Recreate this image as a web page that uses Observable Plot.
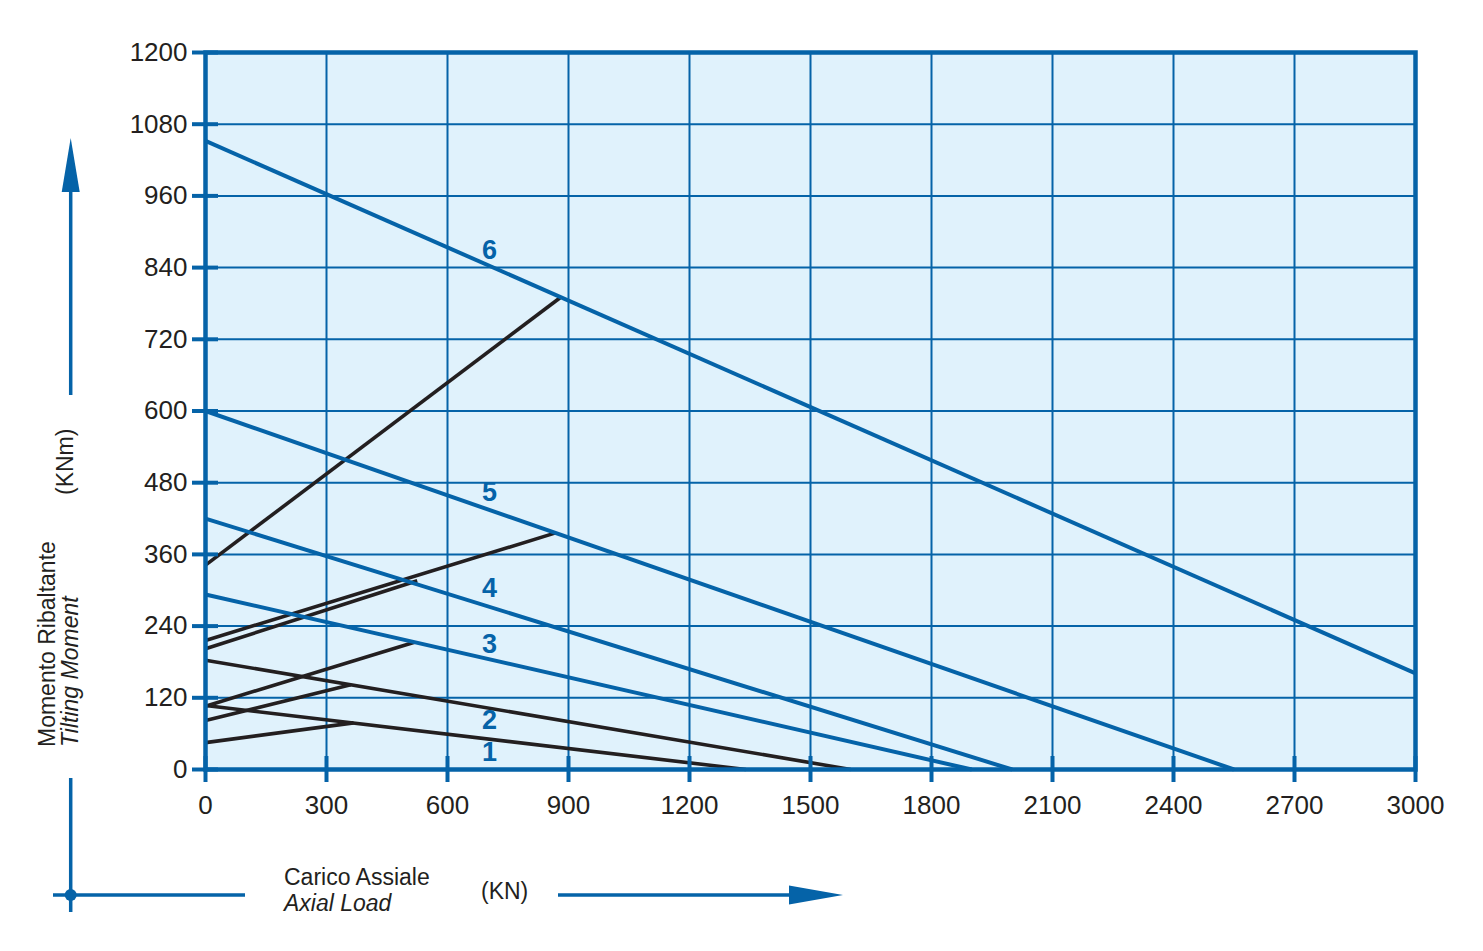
<!DOCTYPE html>
<html>
<head>
<meta charset="utf-8">
<script src="https://cdn.jsdelivr.net/npm/d3@7"></script>
<script src="https://cdn.jsdelivr.net/npm/@observablehq/plot@0.6"></script>
<style>
  html, body { margin: 0; padding: 0; background: #ffffff; }
  #chart { position: absolute; left: 0; top: 0; }
</style>
</head>
<body>
<div id="chart"></div>
<script>
// ---- data ----
const xTicks = [0, 300, 600, 900, 1200, 1500, 1800, 2100, 2400, 2700, 3000];
const yTicks = [0, 120, 240, 360, 480, 600, 720, 840, 960, 1080, 1200];

// descending load curves 1..6 (moment at zero axial load -> end point)
const curveNames = ["1", "2", "3", "4", "5", "6"];
const curveStartY = [107, 183, 293, 420, 600, 1052];
const curveEndX = [1340, 1600, 1900, 2000, 2550, 3000];
const curveEndY = [0, 0, 0, 0, 0, 161];
const curveColor = ["black", "black", "blue", "blue", "blue", "blue"];

// rising bolt-limit lines
const boltStartY = [45, 82, 106, 202, 216, 342];
const boltEndX = [367, 360, 518, 525, 868, 880];
const boltEndY = [78, 142, 213, 316, 396, 790];

// curve number labels
const labelX = [704, 704, 704, 704, 704, 704];
const labelY = [28, 82, 209, 303, 464, 869];

// ---- style ----
const BLUE = "#0563a8";
const BLACK = "#231f20";
const BG = "#e0f2fc";
const FONT = "'Liberation Sans', Arial, Helvetica, sans-serif";

const curves = curveNames.map((n, i) => ({
  name: n, x1: 0, y1: curveStartY[i], x2: curveEndX[i], y2: curveEndY[i],
  color: curveColor[i] === "blue" ? BLUE : BLACK
}));
const bolts = boltStartY.map((y, i) => ({x1: 0, y1: y, x2: boltEndX[i], y2: boltEndY[i]}));
const labels = curveNames.map((n, i) => ({name: n, x: labelX[i], y: labelY[i]}));

const W = 1483, H = 951;
const svg = Plot.plot({
  width: W,
  height: H,
  marginLeft: 205,
  marginRight: 68,
  marginTop: 52,
  marginBottom: 182,
  x: {domain: [0, 3000]},
  y: {domain: [0, 1200]},
  style: {fontFamily: FONT, fontSize: "26px", color: BLACK, background: "#ffffff", overflow: "visible"},
  marks: [
    Plot.frame({fill: BG, stroke: null}),
    Plot.gridX(xTicks, {stroke: BLUE, strokeOpacity: 1, strokeWidth: 2}),
    Plot.gridY(yTicks, {stroke: BLUE, strokeOpacity: 1, strokeWidth: 2}),
    Plot.link(curves.filter(d => d.color === BLACK), {x1: "x1", y1: "y1", x2: "x2", y2: "y2", stroke: BLACK, strokeWidth: 3.6}),
    Plot.link(bolts, {x1: "x1", y1: "y1", x2: "x2", y2: "y2", stroke: BLACK, strokeWidth: 3.6}),
    Plot.link(curves.filter(d => d.color === BLUE), {x1: "x1", y1: "y1", x2: "x2", y2: "y2", stroke: BLUE, strokeWidth: 4}),
    Plot.text(labels, {x: "x", y: "y", text: "name", fill: BLUE, fontWeight: "bold", fontSize: 27, fontFamily: FONT}),
    Plot.frame({stroke: BLUE, strokeWidth: 4.5}),
    Plot.axisX(xTicks, {anchor: "bottom", tickSize: 26, dy: -13, tickPadding: 13, stroke: BLUE, strokeWidth: 4, fill: BLACK, tickFormat: d => String(d), label: null, fontSize: 26}),
    Plot.axisY(yTicks, {anchor: "left", tickSize: 26, dx: 13, tickPadding: 5, stroke: BLUE, strokeWidth: 4, fill: BLACK, tickFormat: d => String(d), label: null, fontSize: 26})
  ]
});
document.getElementById("chart").appendChild(svg);

// ---- decorations: axis titles and arrows ----
const s = d3.select(svg);
const deco = s.append("g").attr("class", "deco").attr("text-anchor", "start");
const LW = 3.5;

// vertical arrow (y direction)
deco.append("line").attr("x1", 70.7).attr("x2", 70.7).attr("y1", 395).attr("y2", 188)
  .attr("stroke", BLUE).attr("stroke-width", LW);
deco.append("path").attr("d", "M70.7,138 L61.7,192 L79.7,192 Z").attr("fill", BLUE);

// origin cross
deco.append("line").attr("x1", 70.7).attr("x2", 70.7).attr("y1", 778).attr("y2", 912)
  .attr("stroke", BLUE).attr("stroke-width", LW);
deco.append("line").attr("x1", 53).attr("x2", 245).attr("y1", 895).attr("y2", 895)
  .attr("stroke", BLUE).attr("stroke-width", LW);
deco.append("circle").attr("cx", 70.7).attr("cy", 895).attr("r", 6).attr("fill", BLUE);

// horizontal arrow (x direction)
deco.append("line").attr("x1", 558).attr("x2", 795).attr("y1", 895).attr("y2", 895)
  .attr("stroke", BLUE).attr("stroke-width", LW);
deco.append("path").attr("d", "M843,895 L789,885.5 L789,904.5 Z").attr("fill", BLUE);

// x title
deco.append("text").attr("x", 284).attr("y", 885).attr("text-anchor", "start").attr("font-family", FONT).attr("font-size", 23)
  .attr("fill", BLACK).text("Carico Assiale");
deco.append("text").attr("x", 284).attr("y", 911).attr("text-anchor", "start").attr("font-family", FONT).attr("font-size", 23)
  .attr("font-style", "italic").attr("fill", BLACK).text("Axial Load");
deco.append("text").attr("x", 481).attr("y", 899).attr("text-anchor", "start").attr("font-family", FONT).attr("font-size", 23)
  .attr("fill", BLACK).text("(KN)");

// y title (rotated)
deco.append("text").attr("transform", "translate(55,747) rotate(-90)").attr("text-anchor", "start").attr("font-family", FONT)
  .attr("font-size", 23).attr("fill", BLACK).text("Momento Ribaltante");
deco.append("text").attr("transform", "translate(78,747) rotate(-90)").attr("text-anchor", "start").attr("font-family", FONT)
  .attr("font-size", 23).attr("font-style", "italic").attr("fill", BLACK).text("Tilting Moment");
deco.append("text").attr("transform", "translate(73,495) rotate(-90)").attr("text-anchor", "start").attr("font-family", FONT)
  .attr("font-size", 23).attr("fill", BLACK).text("(KNm)");
</script>
</body>
</html>
